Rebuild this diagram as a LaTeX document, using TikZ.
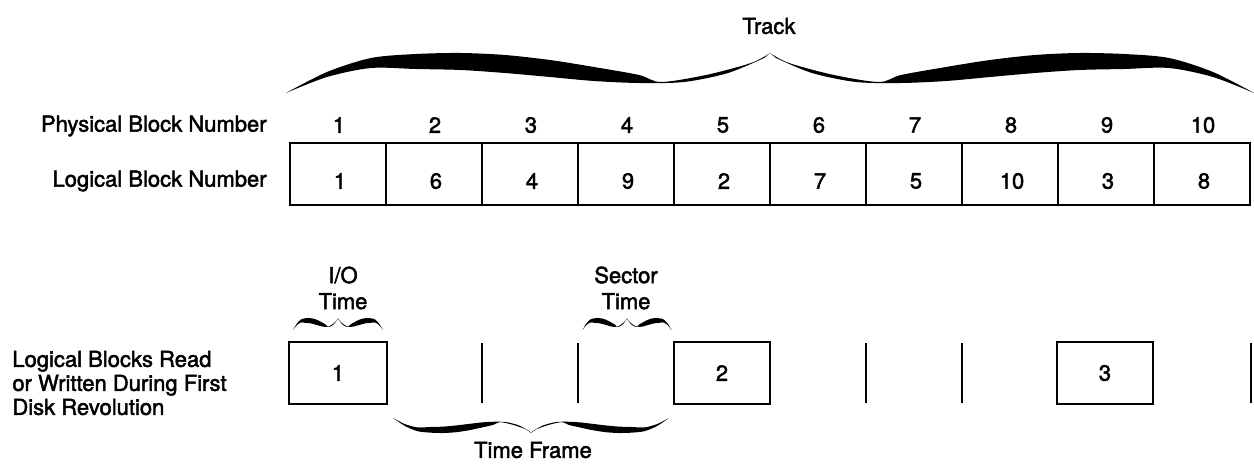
\documentclass[tikz,border=0pt]{standalone}
\usepackage{fontspec}
\setmainfont{TeX Gyre Heros}[FakeBold=2]
\begin{document}
\begin{tikzpicture}[x=0.5pt,y=-0.5pt,
  cell/.style={draw, line width=1.1pt, minimum width=48pt, minimum height=31pt, inner sep=0pt},
  lbl/.style={font=\fontsize{11}{13}\selectfont, inner sep=0pt},
  bar/.style={line width=1.1pt}]
\useasboundingbox (0,0) rectangle (1254,466);
\def\halfbrace{\fill plot[smooth] coordinates {(-484,40) (-443,19) (-399,5) (-354,1) (-309,0) (-265,2) (-220,7) (-176,14) (-131,22) (-109,29) (-64,22) (-19,10) (0,0)} -- plot[smooth] coordinates {(-6,5) (-42,20) (-86,29) (-131,30) (-176,28) (-220,24) (-265,20) (-309,17) (-354,16) (-399,15) (-443,24) (-484,40)} -- cycle;}
\tikzset{cbrace/.pic={\halfbrace \begin{scope}[xscale=-1]\halfbrace\end{scope}}}
% track brace
\pic at (770,53) {cbrace};
\node[lbl] (track) at (769,26) {Track};
% top row
\node[lbl, anchor=east] (phys) at (267,126) {Physical Block Number};
\node[lbl, anchor=east] (logi) at (267,181) {Logical Block Number};
\foreach \i/\l in {1/1,2/6,3/4,4/9,5/2,6/7,7/5,8/10,9/3,10/8} {
  \node[cell] (c\i) at ({242+96*\i},174) {};
  \node[lbl] (l\i) at ({244+96*\i},181) {\l};
  \node[lbl] (p\i) at ({243+96*\i},125) {\i};
}
% bottom row
\node[lbl, anchor=west, align=left, font=\fontsize{11}{12}\selectfont] (rev) at (12,383) {Logical Blocks Read\\or Written During First\\Disk Revolution};
\node[cell, minimum height=31pt, minimum width=49pt, lbl] (b1) at (338,373) {1};
\node[cell, minimum height=31pt, lbl] (b2) at (722,373) {2};
\node[cell, minimum height=31pt, lbl] (b3) at (1105,373) {3};
\foreach \x [count=\k] in {482,578,866,962,1251} {
  \coordinate (t\k) at (\x,343);
  \coordinate (u\k) at (\x,403);
  \draw[bar] (t\k) -- (u\k);
}
% small braces and labels
\pic[xscale=0.093, yscale=0.3] at (338,318) {cbrace};
\node[lbl, align=center, font=\fontsize{11}{13}\selectfont] (io) at (343,288) {I/O\\Time};
\pic[xscale=0.092, yscale=0.3] at (627,318) {cbrace};
\node[lbl, align=center, font=\fontsize{11}{13}\selectfont] (sec) at (626,288) {Sector\\Time};
\pic[xscale=0.285, yscale=-0.375] at (531,433) {cbrace};
\node[lbl] (tf) at (533,450) {Time Frame};
\end{tikzpicture}
\end{document}
